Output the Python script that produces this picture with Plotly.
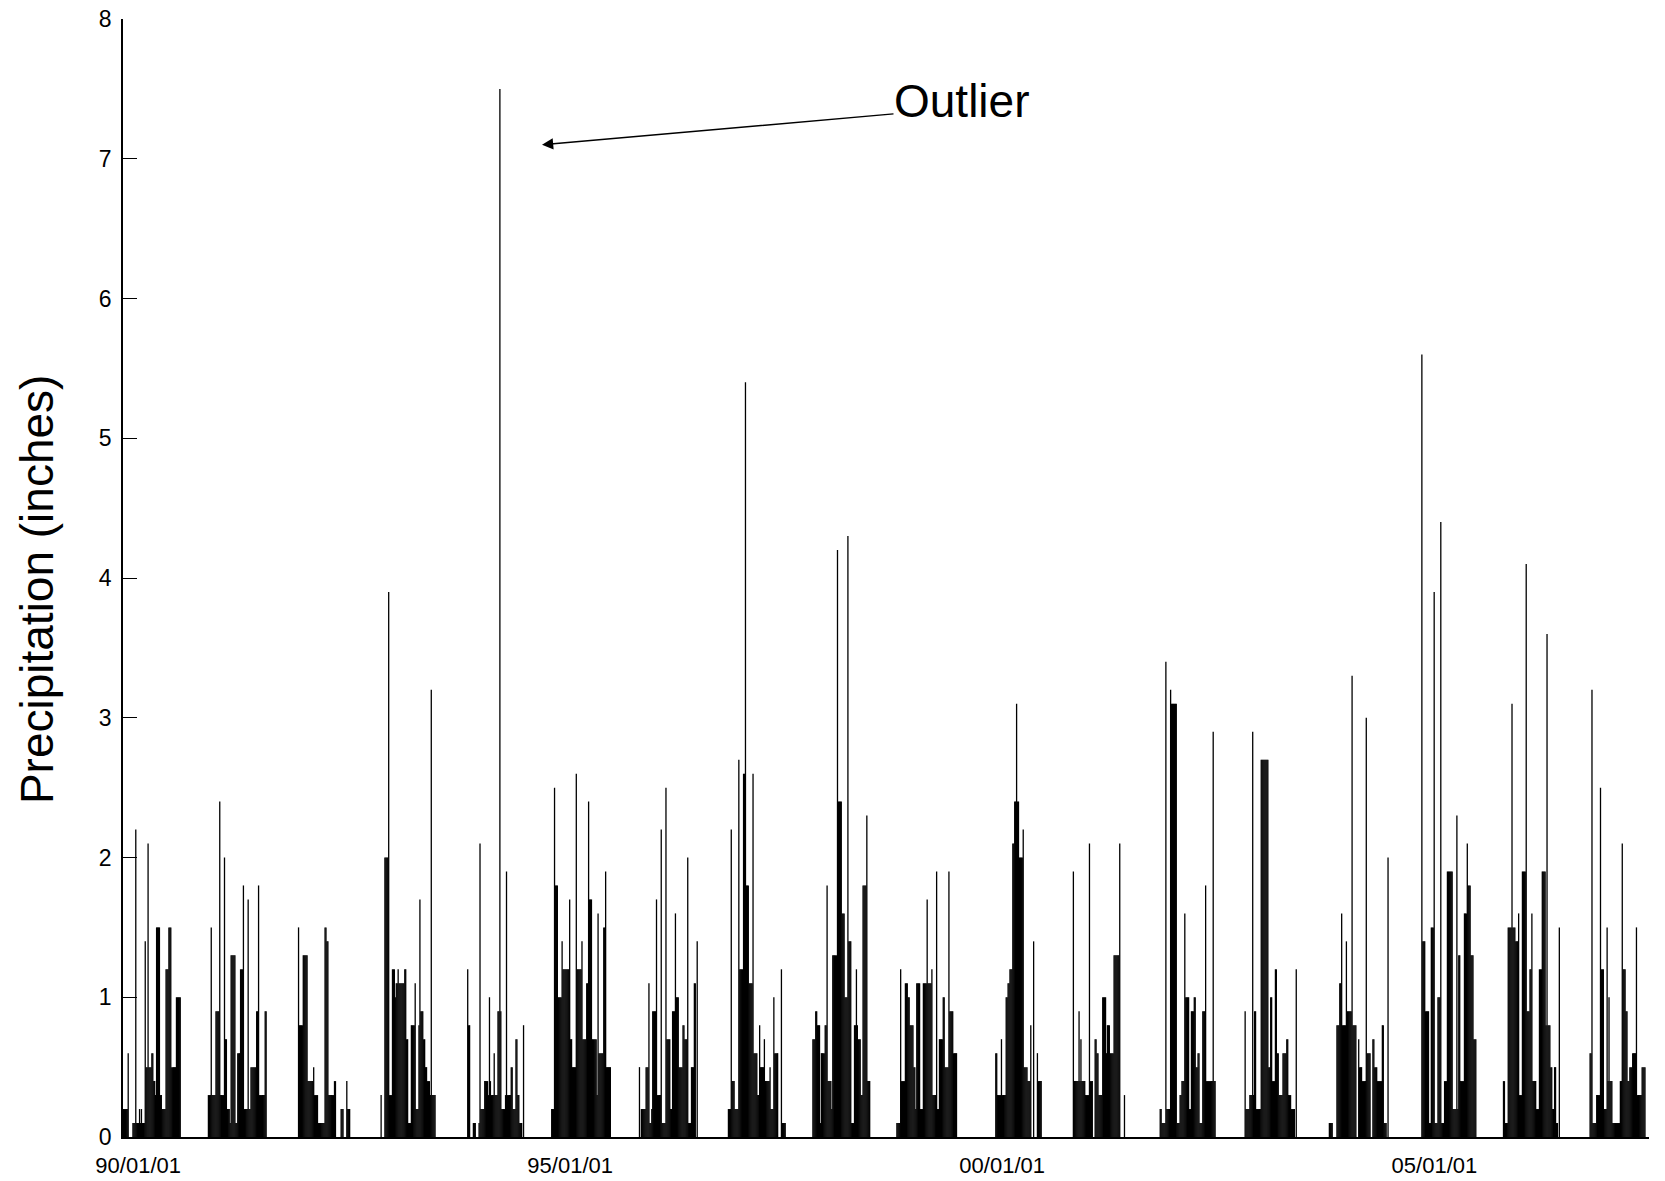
import plotly.graph_objects as go
import pandas as pd

# Daily precipitation (inches), one value every STEP_DAYS days within each wet season
STEP_DAYS = 4

season_starts = ["1989-10-31", "1990-10-25", "1991-11-10", "1992-10-20", "1993-10-21",
                 "1994-10-15", "1995-10-17", "1996-10-31", "1997-10-23", "1998-10-13",
                 "1999-12-05", "2000-10-28", "2001-10-30", "2002-10-24", "2003-10-15",
                 "2004-11-01", "2005-10-20", "2006-10-21"]

wy1990 = [0.2,0.2,0.2,0.2,0.2,0.6,0,0,0,0,0.1,0.1,0.1,2.2,0.1,0.1,0.1,0.2,0.1,0.2,0.1,0.1,0.1,1.4,0.5,0.5,2.1,0.5,0.5,0.5,0.6,0.6,0.4,0.4,0.3,1.5,1.5,1.5,1.5,0.3,0.3,0.2,0.2,0.2,0.2,1.2,1.2,1.2,1.5,1.5,1.5,0.5,0.5,0.5,0.5,0.5,1.0,1.0,1.0,1.0,1.0]
wy1991 = [0.3,0.3,0.3,1.5,0.3,0.3,0.3,0.3,0.9,0.9,0.9,0.9,2.4,0.3,0.3,0.3,0.3,2.0,0.7,0.7,0.2,0.2,0.2,0.1,1.3,1.3,1.3,1.3,1.3,0.1,0.1,0.6,0.6,0.6,1.2,1.2,1.2,1.8,0.2,0.2,0.2,0.2,1.7,0.2,0.2,0.5,0.5,0.5,0.5,0.5,0.5,0.9,0.9,1.8,0.3,0.3,0.3,0.3,0.3,0.3,0.9,0.9]
wy1992 = [1.5,0.8,0.8,0.8,0.8,1.3,1.3,1.3,1.3,1.3,0.4,0.4,0.4,0.4,0.4,0.4,0.5,0.3,0.3,0.3,0.3,0.1,0.1,0.1,0.1,0.1,0.1,0.1,1.5,1.5,1.4,1.4,0.3,0.3,0.3,0.3,0.3,0.3,0.4,0.4,0,0,0,0,0,0.2,0.2,0.2,0,0,0,0.4,0.2,0.2,0.2,0]
wy1993 = [0,0.3,0,0,0,2.0,2.0,2.0,2.0,3.9,0.3,0.3,0.3,1.2,1.2,1.2,1.0,1.1,1.1,1.2,1.1,1.1,1.1,1.1,1.1,1.1,1.2,1.2,0.7,0.7,0.1,0.1,0.1,0.8,0.8,0.8,0.8,1.1,0.2,0.2,0.2,0.8,1.7,0.9,0.9,0.9,0.7,0.7,0.5,0.5,0.4,0.4,0.4,0.3,3.2,0.3,0.3,0.3,0.3]
wy1994 = [0,1.2,0.8,0.8,0,0,0,0.1,0.1,0.1,0,0,0,0.1,2.1,0.2,0.2,0.2,0.2,0.4,0.4,0.4,0.4,0.3,1.0,0.4,0.3,0.3,0.3,0.6,0.3,0.3,0.3,0.9,0.9,7.5,0.9,0.2,0.2,0.2,0.2,0.3,1.9,0.3,0.3,0.3,0.3,0.5,0.5,0.2,0.2,0.2,0.7,0.7,0.3,0.3,0.1,0.1,0.1,0,0.8]
wy1995 = [0.2,0.2,0.2,2.5,1.8,1.8,1.8,1.0,1.0,1.0,1.0,1.4,1.2,1.2,1.2,1.2,1.2,1.2,1.2,1.7,0.7,0.7,0.5,0.5,0.5,0.5,2.6,1.2,1.2,1.2,1.2,1.2,1.4,0.7,0.7,0.7,0.7,1.1,1.1,2.4,1.7,1.7,1.7,0.7,0.7,0.7,0.7,0.7,0.3,1.6,0.6,0.6,0.6,0.6,0.6,1.5,1.5,1.9,0.5,0.5,0.5,0.5,0.5]
wy1996 = [0,0.5,0,0.2,0.2,0.2,0.2,0.2,0.5,0.5,0.5,1.1,0.1,0.1,0.2,0.9,0.9,0.9,0.9,1.7,0.3,0.3,0.3,0.3,2.2,0.1,0.1,0.1,0.1,2.5,0.7,0.7,0.7,0.7,0.2,0.2,0.9,0.9,0.9,1.6,1.0,1.0,1.0,0.5,0.5,0.5,0.5,0.8,0.8,0.7,0.7,0.7,2.0,0.1,0.1,0.1,0.5,0.5,0.5,1.1,1.1,0,1.4,0]
wy1997 = [0.2,0.2,0.2,2.2,0.4,0.4,0.4,0.2,0.2,0.2,0.2,2.7,1.2,1.2,1.2,1.2,2.6,2.6,5.4,1.8,1.8,1.8,1.1,1.1,1.1,1.1,2.6,0.6,0.6,0.6,0.6,0.3,0.3,0.8,0.5,0.5,0.5,0.5,0.7,0.4,0.4,0.4,0.4,0.4,0.5,0.2,0.2,0.2,1.0,0.6,0.6,0.6,0.6,0,0,0,1.2,0.1,0.1,0.1,0.1]
wy1998 = [0.7,0.7,0.7,0.9,0.9,0.8,0.8,0.8,0.1,0.6,0.6,0.6,0.6,0.8,0.8,1.8,0.4,0.4,0.4,0.4,0.2,1.3,1.3,1.3,1.3,1.3,4.2,2.4,2.4,2.4,2.4,1.6,1.6,1.6,1.0,1.0,1.0,4.3,1.4,1.4,1.4,0.1,0.1,0.1,0.8,0.8,1.2,0.8,0.7,0.7,0.7,0.3,0.3,1.8,1.8,1.8,1.8,2.3,0.4,0.4,0.4]
wy1999 = [0.1,0.1,0.1,0.1,1.2,0.4,0.4,0.4,0.4,1.1,1.1,1.1,1.0,1.0,0.8,0.8,0.8,0.8,0.5,0.5,0.2,1.1,1.1,1.1,1.1,0.2,0.2,0.2,1.1,1.1,1.1,1.1,1.7,1.1,1.1,1.1,1.1,1.2,0.3,0.3,0.3,0.3,1.9,0.2,0.2,0.7,0.7,0.7,0.7,1.0,1.0,0.5,0.5,0.5,0.5,1.9,0.9,0.9,0.9,0.9,0.6,0.6,0.6,0.6]
wy2000 = [0.6,0.6,0.3,0.3,0.3,0.3,0.7,0.3,0.3,0.3,0.3,1.0,1.0,1.1,1.1,1.2,1.2,1.2,2.1,2.1,2.4,2.4,3.1,2.4,2.4,2.0,2.0,2.0,2.0,2.2,0.5,0.5,0.5,0.5,0.4,0.4,0.4,0.8,0,0,1.4,0,0,0,0.6,0.4,0.4,0.4,0.4]
wy2001 = [1.9,0.4,0.4,0.4,0.4,0.4,0.9,0.4,0.7,0.4,0.4,0.4,0.4,0.3,0.3,0.3,0.3,2.1,0.4,0.4,0.4,0,0,0.7,0.7,0.6,0.6,0.3,0.3,0.3,0.3,1.0,1.0,1.0,1.0,0.6,0.8,0.8,0.8,0.6,0.6,0.6,0.6,1.3,1.3,1.3,1.3,1.3,1.3,2.1,0,0,0,0,0.3,0]
wy2002 = [0.2,0.2,0.1,0.1,0.1,0.1,3.4,0.2,0.2,0.2,0.2,3.2,3.1,3.1,3.1,3.1,3.1,3.1,0.1,0.1,0.1,0.3,0.3,0.4,0.4,0.4,1.6,1.0,1.0,1.0,1.0,0.2,0.2,0.9,0.9,0.9,1.0,1.0,0.5,0.5,0.6,0.6,0.1,0.1,0.1,0.9,0.9,0.9,1.8,0.4,0.4,0.4,0.4,0.4,0.4,0.4,2.9,0.4,0.4]
wy2003 = [0.9,0.2,0.2,0.2,0.2,0.3,0.3,0.3,2.9,0.3,0.9,0.9,0.2,0.2,0.2,0.2,0.2,2.7,2.7,2.7,2.7,2.7,2.7,2.7,2.7,0.5,0.5,1.0,1.0,0.4,0.4,0.4,1.2,1.2,0.6,0.6,0.3,0.3,0.3,0.3,0.6,0.6,0.6,0.6,0.7,0.7,0.3,0.3,0.3,0.2,0.2,0.2,0.2,0,1.2]
wy2004 = [0.1,0.1,0.1,0.1,0,0,0,0,0.8,0.8,0.8,1.1,1.1,1.6,0.8,0.8,0.8,0.8,1.4,0.9,0.9,0.9,0.9,0.9,3.3,0.8,0.8,0.8,0.8,0,0,0.7,0.5,0.5,0.5,0.4,0.4,0.4,0.4,3.0,0.6,0.6,0.6,0.6,0,0,0.7,0.7,0.5,0.5,0.5,0.4,0.4,0.4,0.4,0.4,0.8,0.8,0.1,0.1,0.1,0,2.0]
wy2005 = [0,0,5.6,1.4,1.4,1.4,0.9,0.9,0.9,0.9,0.1,0.1,1.5,1.5,1.5,3.9,0.1,0.1,0.1,1.0,1.0,1.0,4.4,0.1,0.1,0.1,0.4,0.4,0.4,1.9,1.9,1.9,1.9,1.9,1.9,0.2,0.2,0.2,0.2,2.3,0.2,1.3,1.3,0.4,0.4,0.4,0.4,1.6,1.6,1.6,2.1,1.8,1.8,1.8,1.3,1.3,1.3,0.7,0.7,0.7]
wy2006 = [0.4,0.4,0.1,0.1,0.1,1.5,1.5,1.5,1.5,3.1,1.5,1.5,1.5,1.4,1.4,1.4,1.6,0.3,0.3,0.3,1.9,1.9,1.9,1.9,4.1,0.9,0.9,0.9,1.2,1.2,1.6,0.4,0.4,0.4,0.4,0.2,0.2,0.2,1.2,1.2,1.2,1.9,1.9,1.9,1.9,0.8,3.6,0.8,0.8,0.8,0.5,0.5,0.2,0.2,0.5,0.5,0.1,0.1,0,1.5]
wy2007 = [0.6,0.6,3.2,0.1,0.1,0.1,0.1,0.3,0.3,0.3,0.3,2.5,1.2,1.2,1.2,0.2,0.2,0.2,1.5,0.4,1.0,0.4,0.4,0.4,0.1,0.1,0.1,0.1,0.1,0.1,0.1,0.1,0.4,0.4,2.1,1.2,1.2,1.2,0.9,0.9,0.4,0.4,0.5,0.5,0.5,0.6,0.6,0.6,0.6,1.5,0.3,0.3,0.3,0.3,0.3,0.5,0.5,0.5,0.5]

season_values = [wy1990, wy1991, wy1992, wy1993, wy1994, wy1995, wy1996, wy1997, wy1998,
                 wy1999, wy2000, wy2001, wy2002, wy2003, wy2004, wy2005, wy2006, wy2007]

tick_dates = ["1990-01-01", "1995-01-01", "2000-01-01", "2005-01-01"]
tick_labels = ["90/01/01", "95/01/01", "00/01/01", "05/01/01"]
y_ticks = [0, 1, 2, 3, 4, 5, 6, 7, 8]

x_range = ["1989-10-29", "2007-06-27"]
outlier_date = "1994-09-04"
outlier_arrow_y = 7.10

# Build stem segments
xs, ys = [], []
for start, vals in zip(season_starts, season_values):
    t0 = pd.Timestamp(start)
    for i, v in enumerate(vals):
        if v > 0:
            d = (t0 + pd.Timedelta(days=STEP_DAYS * i)).strftime("%Y-%m-%d")
            xs += [d, d, None]
            ys += [0, v, None]

fig = go.Figure()
fig.add_trace(go.Scatter(x=xs, y=ys, mode="lines",
                         line=dict(color="black", width=1.3),
                         hoverinfo="skip", showlegend=False))

FONT = "Liberation Sans, Arial, sans-serif"

fig.update_layout(
    width=1665, height=1181,
    margin=dict(l=123, r=16, t=19, b=44, autoexpand=False),
    paper_bgcolor="white", plot_bgcolor="white",
    showlegend=False,
    font=dict(family=FONT, color="black"),
    xaxis=dict(type="date", range=x_range, showgrid=False, zeroline=False,
               automargin=False,
               showline=True, linecolor="black", linewidth=1.5,
               tickmode="array", tickvals=tick_dates, ticktext=tick_labels,
               ticks="", tickfont=dict(size=22, family=FONT, color="black"),
               ticklabelstandoff=8),
    yaxis=dict(range=[0, 8], showgrid=False, zeroline=False,
               automargin=False,
               showline=True, linecolor="black", linewidth=1.5,
               tickmode="array", tickvals=y_ticks,
               ticks="inside", ticklen=14, tickwidth=1.3, tickcolor="black",
               tickfont=dict(size=23, family=FONT, color="black"),
               ticklabelstandoff=5),
)

fig.add_annotation(xref="paper", yref="paper", x=-0.0564, y=0.49,
                   text="Precipitation (inches)", textangle=-90, showarrow=False,
                   xanchor="center", yanchor="middle",
                   font=dict(size=46, family=FONT, color="black"))

fig.add_annotation(x=outlier_date, y=outlier_arrow_y, xref="x", yref="y",
                   text="", showarrow=True, arrowhead=2, arrowsize=1.6,
                   arrowwidth=1.4, arrowcolor="black", ax=353, ay=-31)

fig.add_annotation(x="1998-09-23", y=7.41, xref="x", yref="y",
                   text="Outlier", showarrow=False, xanchor="left", yanchor="middle",
                   font=dict(size=46, family=FONT, color="black"))

fig.write_html("out.html")
